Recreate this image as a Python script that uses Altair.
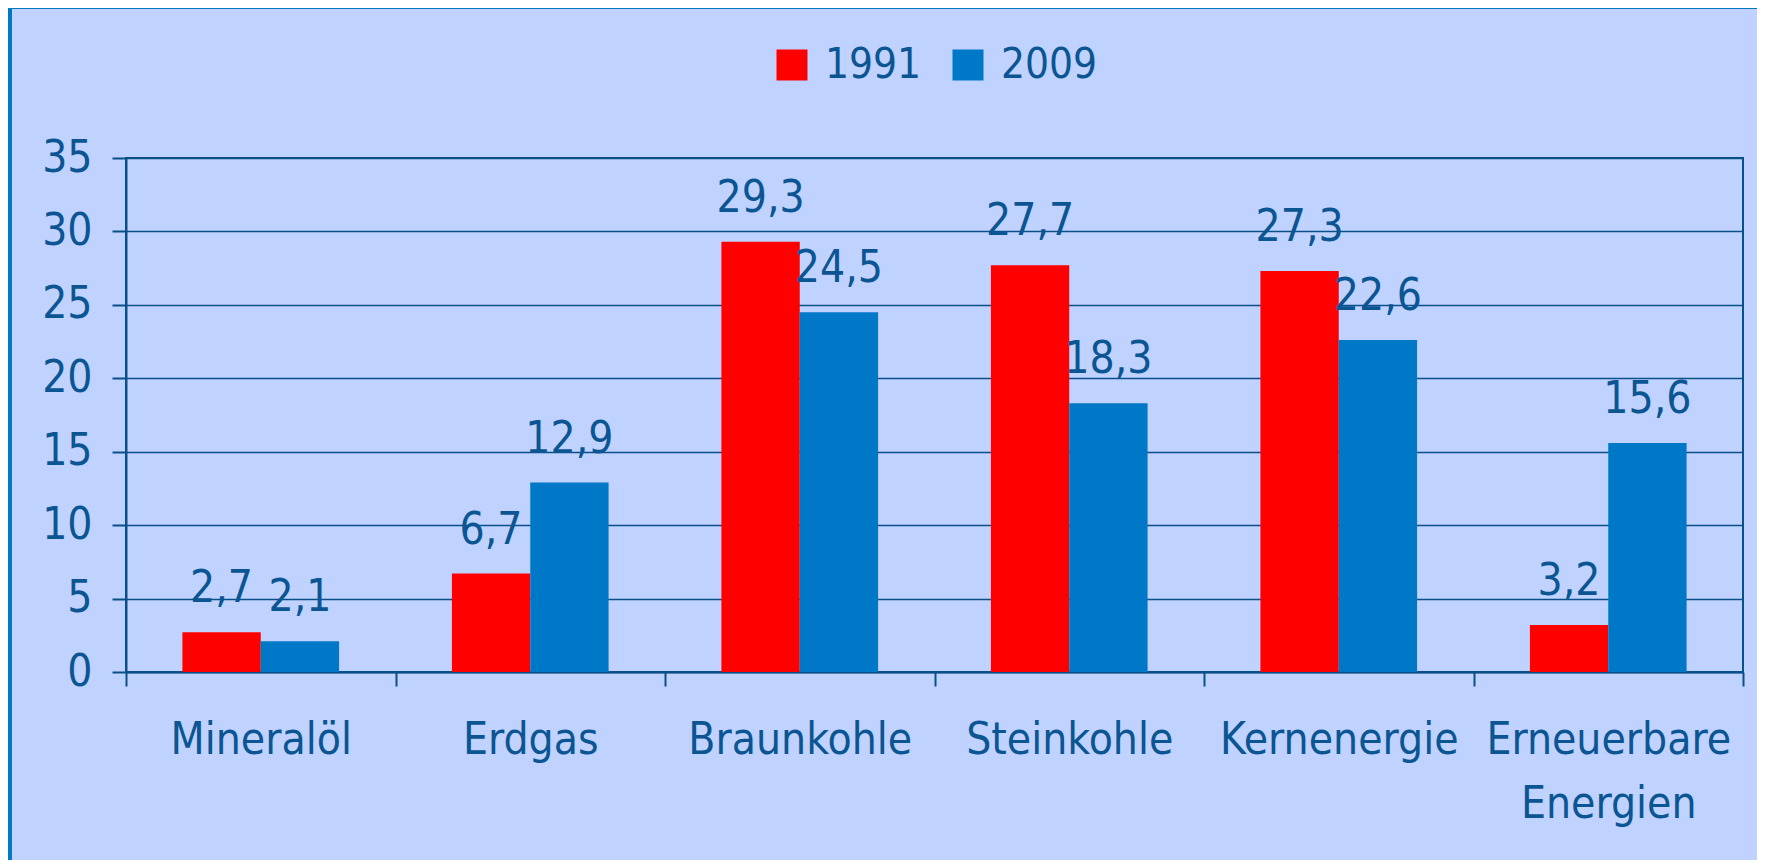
import altair as alt
import pandas as pd

categories = ["Mineralöl", "Erdgas", "Braunkohle", "Steinkohle", "Kernenergie", "Erneuerbare Energien"]
years = ["1991", "2009"]
values_1991 = [2.7, 6.7, 29.3, 27.7, 27.3, 3.2]
values_2009 = [2.1, 12.9, 24.5, 18.3, 22.6, 15.6]
y_ticks = [0, 5, 10, 15, 20, 25, 30, 35]

rows = []
for c, a, b in zip(categories, values_1991, values_2009):
    rows.append({"cat": c, "year": "1991", "v": a, "label": f"{a:.1f}".replace(".", ",")})
    rows.append({"cat": c, "year": "2009", "v": b, "label": f"{b:.1f}".replace(".", ",")})
df = pd.DataFrame(rows)

FONT = "DejaVu Sans Condensed, sans-serif"
FS = 44
INK = "#0A5592"
LINE = "#0A5088"
RED = "#FF0000"
BLUE = "#0078C8"
BG = "#C0D2FF"

W, H = 1617, 514

x_enc = alt.X(
    "cat:N",
    sort=categories,
    title=None,
    scale=alt.Scale(paddingInner=0, paddingOuter=0),
    axis=alt.Axis(
        labelAngle=0,
        labelFont=FONT,
        labelFontSize=FS,
        labelColor=INK,
        labelPadding=32,
        labelLineHeight=64,
        labelLimit=0,
        labelExpr="split(datum.label, ' ')",
        tickBand="extent",
        tickSize=14,
        tickColor=LINE,
        tickWidth=2,
        domainColor=LINE,
        domainWidth=2,
        grid=False,
    ),
)
xo_enc = alt.XOffset("year:N", sort=years, scale=alt.Scale(paddingInner=0, paddingOuter=0.72))
y_enc = alt.Y(
    "v:Q",
    title=None,
    scale=alt.Scale(domain=[0, 35], nice=False, zero=True),
    axis=alt.Axis(
        values=y_ticks,
        labelFont=FONT,
        labelFontSize=FS,
        labelColor=INK,
        labelPadding=20,
        tickSize=14,
        tickColor=LINE,
        tickWidth=2,
        domainColor=LINE,
        domainWidth=2,
        grid=True,
        gridColor=LINE,
        gridWidth=1.6,
        gridOpacity=1,
    ),
)

bars = alt.Chart(df).mark_bar(strokeWidth=0).encode(
    x=x_enc,
    xOffset=xo_enc,
    y=y_enc,
    color=alt.Color(
        "year:N",
        sort=years,
        scale=alt.Scale(domain=years, range=[RED, BLUE]),
        legend=alt.Legend(
            title=None,
            orient="none",
            direction="horizontal",
            legendX=645,
            legendY=-114,
            symbolType="square",
            symbolSize=961,
            symbolStrokeWidth=0,
            symbolOpacity=1,
            labelFont=FONT,
            labelFontSize=42,
            labelColor=INK,
            labelOffset=12,
            columnPadding=25,
            padding=0,
        ),
    ),
)

labels = alt.Chart(df).mark_text(
    font=FONT, fontSize=FS, color=INK, baseline="alphabetic", dy=-30
).encode(
    x=alt.X("cat:N", sort=categories),
    xOffset=alt.XOffset("year:N", sort=years),
    y=alt.Y("v:Q"),
    text="label:N",
)

frame = alt.Chart(alt.Data(values=[{"a": 1}])).mark_rect(color=BLUE).encode(
    x=alt.value(-118), x2=alt.value(-114), y=alt.value(-150), y2=alt.value(H + 188)
)
frame_top = alt.Chart(alt.Data(values=[{"a": 1}])).mark_rect(color=BLUE).encode(
    x=alt.value(-118), x2=alt.value(W + 14), y=alt.value(-150), y2=alt.value(-149)
)

chart = (
    alt.layer(bars, labels, frame, frame_top)
    .properties(
        width=W,
        height=H,
        padding={"left": 118, "top": 150, "right": 14, "bottom": 188},
        autosize=alt.AutoSizeParams(type="none"),
        background=BG,
    )
    .configure_view(stroke=LINE, strokeWidth=2)
)

chart.save("out.html", embed_options={"renderer": "svg", "actions": False})
